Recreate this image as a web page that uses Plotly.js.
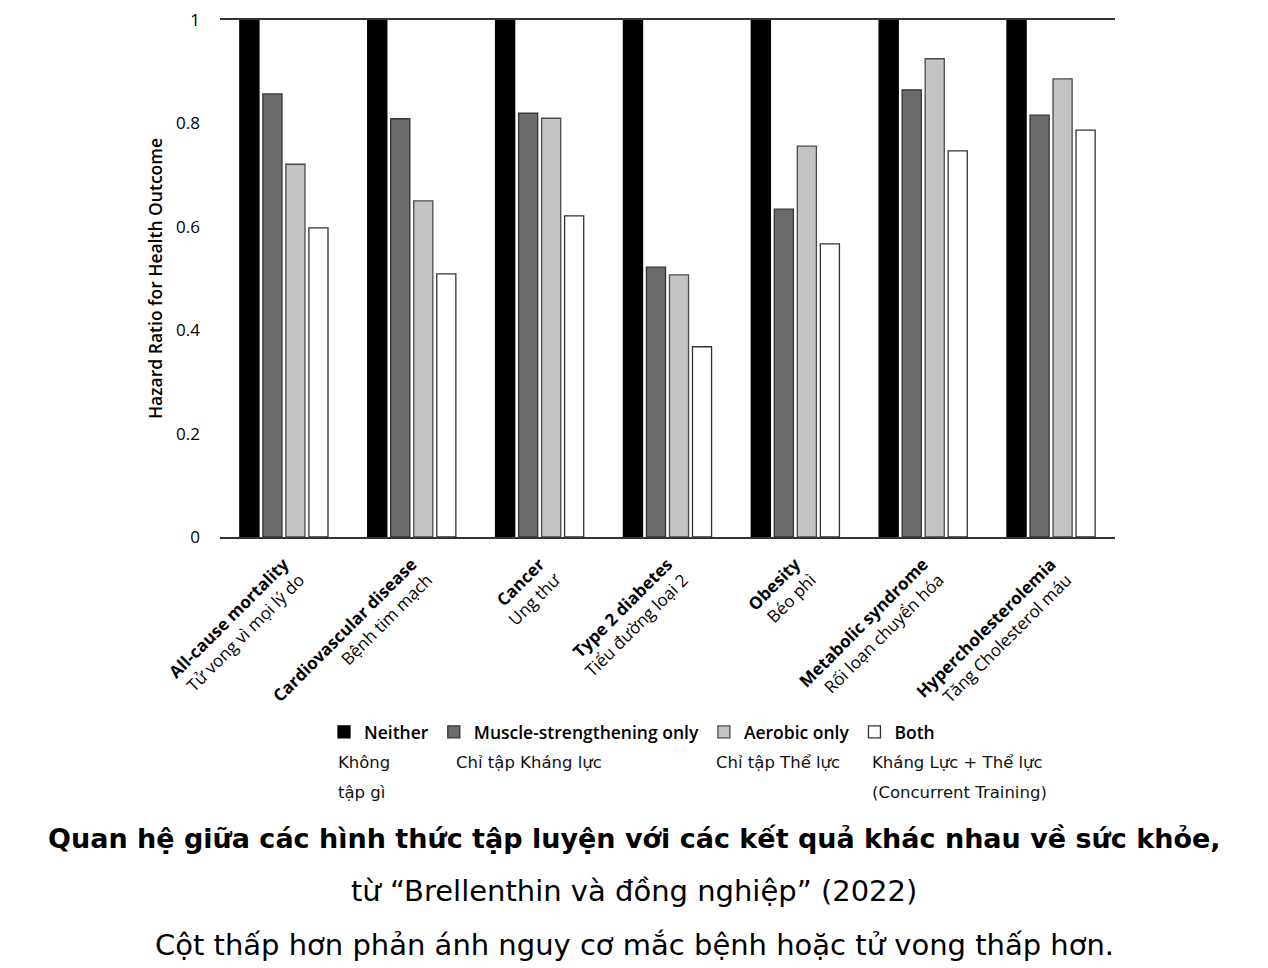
<!DOCTYPE html>
<html>
<head>
<meta charset="utf-8">
<script src="https://cdn.plot.ly/plotly-3.0.1.min.js"></script>
<style>
  html, body { margin: 0; padding: 0; background: #fff; }
  #chart { width: 1268px; height: 968px; }
</style>
</head>
<body>
<div id="chart"></div>
<script>
// ---- data ----
const categories = ['All-cause mortality', 'Cardiovascular disease', 'Cancer', 'Type 2 diabetes', 'Obesity', 'Metabolic syndrome', 'Hypercholesterolemia'];
const categoriesVi = ['Tử vong vì mọi lý do', 'Bệnh tim mạch', 'Ung thư', 'Tiểu đường loại 2', 'Béo phì', 'Rối loạn chuyển hóa', 'Tăng Cholesterol máu'];
const seriesNames = ['Neither', 'Muscle-strengthening only', 'Aerobic only', 'Both'];
const seriesNamesVi = [['Không', 'tập gì'], ['Chỉ tập Kháng lực'], ['Chỉ tập Thể lực'], ['Kháng Lực + Thể lực', '(Concurrent Training)']];
const neither = [1, 1, 1, 1, 1, 1, 1];
const muscle = [0.857, 0.809, 0.820, 0.522, 0.634, 0.865, 0.816];
const aerobic = [0.721, 0.650, 0.810, 0.507, 0.756, 0.925, 0.886];
const both = [0.598, 0.509, 0.621, 0.368, 0.567, 0.747, 0.787];
const yTickVals = [0, 0.2, 0.4, 0.6, 0.8, 1];
const yTickText = ['0', '0.2', '0.4', '0.6', '0.8', '1'];
const captionLines = [
  '<b>Quan hệ giữa các hình thức tập luyện với các kết quả khác nhau về sức khỏe,</b>',
  'từ “Brellenthin và đồng nghiệp” (2022)',
  'Cột thấp hơn phản ánh nguy cơ mắc bệnh hoặc tử vong thấp hơn.'
];

// ---- styles ----
const fills = ['#000000', '#6b6b6b', '#c4c4c4', '#ffffff'];
const outlines = ['#000000', '#333333', '#4a4a4a', '#333333'];
const seriesValues = [neither, muscle, aerobic, both];

const traces = seriesValues.map((vals, i) => ({
  type: 'bar',
  name: seriesNames[i],
  x: categories,
  y: vals,
  marker: { color: fills[i], line: { color: outlines[i], width: 1.3 } },
  hoverinfo: 'x+y+name'
}));

const tickText = categories.map((c, i) => '<b>' + c + '</b><br>' + categoriesVi[i]);

const annFont = { family: '"DejaVu Sans", sans-serif', size: 16.5, color: '#111' };
const legendViX = [336, 454, 714, 870];
const plotL = 220, plotR = 1115, plotT = 20, plotB = 537;
const px2x = p => (p - plotL) / (plotR - plotL);
const px2y = p => (plotB - p) / (plotB - plotT);

const annotations = [];
seriesNamesVi.forEach((lines, i) => {
  lines.forEach((t, j) => {
    annotations.push({
      xref: 'paper', yref: 'paper', x: px2x(legendViX[i]), y: px2y(762 + 30 * j),
      xanchor: 'left', yanchor: 'middle', align: 'left', showarrow: false,
      text: t, font: annFont
    });
  });
});
const capY = [838, 891, 945];
const capSize = [27, 29, 29];
captionLines.forEach((t, i) => {
  annotations.push({
    xref: 'paper', yref: 'paper', x: px2x(634), y: px2y(capY[i]),
    xanchor: 'center', yanchor: 'middle', showarrow: false,
    text: t, font: { family: '"DejaVu Sans", sans-serif', size: capSize[i], color: '#000' }
  });
});

const layout = {
  width: 1268, height: 968,
  margin: { l: plotL, r: 1268 - plotR, t: plotT, b: 968 - plotB, pad: 0 },
  paper_bgcolor: '#fff', plot_bgcolor: '#fff',
  barmode: 'group', bargap: 0.28, bargroupgap: 0.17,
  font: { family: '"Open Sans", sans-serif', color: '#000' },
  showlegend: true,
  legend: {
    orientation: 'h', x: px2x(324), y: px2y(732), xanchor: 'left', yanchor: 'middle',
    font: { family: '"Open Sans", sans-serif', size: 17.5, color: '#000', weight: 600 },
    bgcolor: 'rgba(0,0,0,0)', traceorder: 'normal'
  },
  xaxis: {
    type: 'category', tickvals: categories, ticktext: tickText, tickangle: -45,
    showline: true, mirror: true, linecolor: '#333', linewidth: 1.5,
    showgrid: false, ticks: '', zeroline: false, ticklabelstandoff: 9,
    tickfont: { family: '"Open Sans", sans-serif', size: 17, color: '#000' },
    automargin: false
  },
  yaxis: {
    range: [0, 1], tickvals: yTickVals, ticktext: yTickText,
    showline: false, showgrid: false, zeroline: false, ticks: '',
    ticklabelstandoff: 19,
    tickfont: { family: '"Open Sans", sans-serif', size: 17, color: '#000' },
    title: { text: 'Hazard Ratio for Health Outcome', standoff: 8,
             font: { family: '"Open Sans", sans-serif', size: 17.5, color: '#000', weight: 600 } },
    automargin: false
  },
  annotations: annotations
};

Plotly.newPlot('chart', traces, layout, { displayModeBar: false, responsive: false });
</script>
</body>
</html>
